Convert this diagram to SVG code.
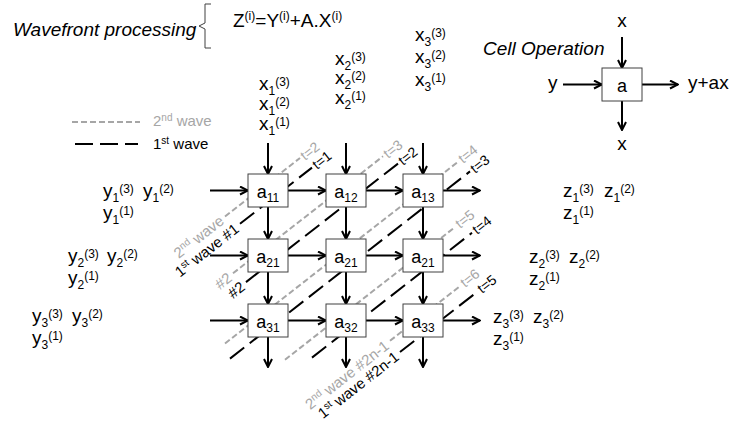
<svg xmlns="http://www.w3.org/2000/svg" width="732" height="421" viewBox="0 0 732 421">
<defs>
<marker id="ah" markerUnits="userSpaceOnUse" viewBox="0 0 10 10" refX="9" refY="5" markerWidth="10" markerHeight="10" orient="auto">
<path d="M1,1 L9,5 L1,9" fill="none" stroke="#000" stroke-width="2"/>
</marker>
<style>
text{font-family:"Liberation Sans",Arial,sans-serif;fill:#000}
.m{font-size:19px}
.s{font-size:12px}
.w{font-size:14px}
.wl{font-size:15px}
.g{fill:#a6a6a6}
.box{fill:#fff;stroke:#404040;stroke-width:1}
.arr{stroke:#000;stroke-width:2;fill:none;marker-end:url(#ah)}
.bd{stroke:#000;stroke-width:2;stroke-dasharray:18 7;fill:none}
.gd{stroke:#a6a6a6;stroke-width:2;stroke-dasharray:6 3;fill:none}
</style>
</defs>
<rect width="732" height="421" fill="#fff"/>

<g id="title">
<text class="m" x="13" y="36" font-style="italic">Wavefront processing</text>
<path d="M211,4 L205,4 L205,23 L199,26 L205,29 L205,48 L211,48" fill="none" stroke="#404040" stroke-width="1"/>
<text class="m" x="233" y="27">Z<tspan class="s" dy="-7">(i)</tspan><tspan dy="7">=Y</tspan><tspan class="s" dy="-7">(i)</tspan><tspan dy="7">+A.X</tspan><tspan class="s" dy="-7">(i)</tspan></text>
</g>

<g id="legend">
<line x1="72" y1="122" x2="140" y2="122" class="gd"/>
<text class="wl g" x="153" y="126">2<tspan font-size="10" dy="-5">nd</tspan><tspan dy="5"> wave</tspan></text>
<line x1="75" y1="144" x2="138" y2="144" class="bd" stroke-dasharray="18 5"/>
<text class="wl" x="153" y="149">1<tspan font-size="10" dy="-5">st</tspan><tspan dy="5"> wave</tspan></text>
</g>

<g id="cellop">
<text class="m" x="483" y="55" font-style="italic">Cell Operation</text>
<line x1="622" y1="37" x2="622" y2="68" class="arr"/>
<line x1="563" y1="84.5" x2="602" y2="84.5" class="arr"/>
<line x1="642" y1="84.5" x2="678" y2="84.5" class="arr"/>
<line x1="622" y1="101" x2="622" y2="130" class="arr"/>
<rect class="box" x="602" y="68" width="40" height="33"/>
<text x="622" y="92" text-anchor="middle" font-size="18">a</text>
<text class="m" x="622" y="27" text-anchor="middle">x</text>
<text class="m" x="622" y="150" text-anchor="middle">x</text>
<text class="m" x="548" y="89">y</text>
<text class="m" x="688" y="89">y+ax</text>
</g>

<g id="xin">
<text class="m" x="259" y="90">x<tspan class="s" dy="5">1</tspan><tspan class="s" dy="-9.5">(3)</tspan></text>
<text class="m" x="259" y="110">x<tspan class="s" dy="5">1</tspan><tspan class="s" dy="-9.5">(2)</tspan></text>
<text class="m" x="259" y="130">x<tspan class="s" dy="5">1</tspan><tspan class="s" dy="-9.5">(1)</tspan></text>
<text class="m" x="335" y="65">x<tspan class="s" dy="5">2</tspan><tspan class="s" dy="-9.5">(3)</tspan></text>
<text class="m" x="335" y="84">x<tspan class="s" dy="5">2</tspan><tspan class="s" dy="-9.5">(2)</tspan></text>
<text class="m" x="335" y="104">x<tspan class="s" dy="5">2</tspan><tspan class="s" dy="-9.5">(1)</tspan></text>
<text class="m" x="415" y="41">x<tspan class="s" dy="5">3</tspan><tspan class="s" dy="-9.5">(3)</tspan></text>
<text class="m" x="415" y="63">x<tspan class="s" dy="5">3</tspan><tspan class="s" dy="-9.5">(2)</tspan></text>
<text class="m" x="415" y="86">x<tspan class="s" dy="5">3</tspan><tspan class="s" dy="-9.5">(1)</tspan></text>
</g>

<g id="yin">
<text class="m" x="103" y="197">y<tspan class="s" dy="5">1</tspan><tspan class="s" dy="-9.5">(3)</tspan></text>
<text class="m" x="143" y="197">y<tspan class="s" dy="5">1</tspan><tspan class="s" dy="-9.5">(2)</tspan></text>
<text class="m" x="103" y="219">y<tspan class="s" dy="5">1</tspan><tspan class="s" dy="-9.5">(1)</tspan></text>
<text class="m" x="68" y="262">y<tspan class="s" dy="5">2</tspan><tspan class="s" dy="-9.5">(3)</tspan></text>
<text class="m" x="107" y="262">y<tspan class="s" dy="5">2</tspan><tspan class="s" dy="-9.5">(2)</tspan></text>
<text class="m" x="68" y="284">y<tspan class="s" dy="5">2</tspan><tspan class="s" dy="-9.5">(1)</tspan></text>
<text class="m" x="32" y="322">y<tspan class="s" dy="5">3</tspan><tspan class="s" dy="-9.5">(3)</tspan></text>
<text class="m" x="72" y="322">y<tspan class="s" dy="5">3</tspan><tspan class="s" dy="-9.5">(2)</tspan></text>
<text class="m" x="32" y="344">y<tspan class="s" dy="5">3</tspan><tspan class="s" dy="-9.5">(1)</tspan></text>
</g>

<g id="zout">
<text class="m" x="563" y="197">z<tspan class="s" dy="5">1</tspan><tspan class="s" dy="-9.5">(3)</tspan></text>
<text class="m" x="604" y="197">z<tspan class="s" dy="5">1</tspan><tspan class="s" dy="-9.5">(2)</tspan></text>
<text class="m" x="563" y="219">z<tspan class="s" dy="5">1</tspan><tspan class="s" dy="-9.5">(1)</tspan></text>
<text class="m" x="529" y="263">z<tspan class="s" dy="5">2</tspan><tspan class="s" dy="-9.5">(3)</tspan></text>
<text class="m" x="569" y="263">z<tspan class="s" dy="5">2</tspan><tspan class="s" dy="-9.5">(2)</tspan></text>
<text class="m" x="529" y="285">z<tspan class="s" dy="5">2</tspan><tspan class="s" dy="-9.5">(1)</tspan></text>
<text class="m" x="493" y="323">z<tspan class="s" dy="5">3</tspan><tspan class="s" dy="-9.5">(3)</tspan></text>
<text class="m" x="533" y="323">z<tspan class="s" dy="5">3</tspan><tspan class="s" dy="-9.5">(2)</tspan></text>
<text class="m" x="493" y="345">z<tspan class="s" dy="5">3</tspan><tspan class="s" dy="-9.5">(1)</tspan></text>
</g>

<g id="waves">
<path class="gd" d="M225,216.5 L300,158"/>
<path class="gd" d="M233,273.3 L383,156.3"/>
<path class="gd" d="M225,343.5 L458,161.8"/>
<path class="gd" d="M285,359.7 L455,227.1"/>
<path class="gd" d="M390,340.8 L460,286.2"/>
<path class="bd" d="M240,223.8 L312,167.6"/>
<path class="bd" d="M246,282.1 L398,163.6"/>
<path class="bd" d="M230,358.6 L470,171.4"/>
<path class="bd" d="M312,357.6 L472,232.8"/>
<path class="bd" d="M400,352 L477,292"/>
<text class="w g" transform="translate(302,157) rotate(-38)" dy="5">t=2</text>
<text class="w" transform="translate(314,166) rotate(-38)" dy="5">t=1</text>
<text class="w g" transform="translate(385,155) rotate(-38)" dy="5">t=3</text>
<text class="w" transform="translate(400,162) rotate(-38)" dy="5">t=2</text>
<text class="w g" transform="translate(460,160) rotate(-38)" dy="5">t=4</text>
<text class="w" transform="translate(472,170) rotate(-38)" dy="5">t=3</text>
<text class="w g" transform="translate(457,225) rotate(-38)" dy="5">t=5</text>
<text class="w" transform="translate(474,231) rotate(-38)" dy="5">t=4</text>
<text class="w g" transform="translate(462,284) rotate(-38)" dy="5">t=6</text>
<text class="w" transform="translate(479,290) rotate(-38)" dy="5">t=5</text>
<text class="wl g" transform="translate(222,219) rotate(-38)" text-anchor="end"><tspan dy="5">2</tspan><tspan font-size="10" dy="-5">nd</tspan><tspan dy="5"> wave</tspan></text>
<text class="wl" transform="translate(237,227) rotate(-38)" text-anchor="end"><tspan dy="5">1</tspan><tspan font-size="10" dy="-5">st</tspan><tspan dy="5"> wave #1</tspan></text>
<text class="wl g" transform="translate(230,276) rotate(-38)" text-anchor="end" dy="5">#2</text>
<text class="wl" transform="translate(243,285) rotate(-38)" text-anchor="end" dy="5">#2</text>
<text class="wl g" transform="translate(387,344) rotate(-38)" text-anchor="end"><tspan dy="5">2</tspan><tspan font-size="10" dy="-5">nd</tspan><tspan dy="5"> wave #2n-1</tspan></text>
<text class="wl" transform="translate(397,355) rotate(-38)" text-anchor="end"><tspan dy="5">1</tspan><tspan font-size="10" dy="-5">st</tspan><tspan dy="5"> wave #2n-1</tspan></text>
</g>

<g id="connectors">
<line x1="268" y1="143" x2="268" y2="174" class="arr"/>
<line x1="346" y1="143" x2="346" y2="174" class="arr"/>
<line x1="423" y1="143" x2="423" y2="174" class="arr"/>
<line x1="268" y1="207" x2="268" y2="239" class="arr"/>
<line x1="346" y1="207" x2="346" y2="239" class="arr"/>
<line x1="423" y1="207" x2="423" y2="239" class="arr"/>
<line x1="268" y1="272" x2="268" y2="304" class="arr"/>
<line x1="346" y1="272" x2="346" y2="304" class="arr"/>
<line x1="423" y1="272" x2="423" y2="304" class="arr"/>
<line x1="268" y1="337" x2="268" y2="367" class="arr"/>
<line x1="346" y1="337" x2="346" y2="367" class="arr"/>
<line x1="423" y1="337" x2="423" y2="367" class="arr"/>
<line x1="210" y1="190.5" x2="248" y2="190.5" class="arr"/>
<line x1="288" y1="190.5" x2="326" y2="190.5" class="arr"/>
<line x1="366" y1="190.5" x2="403" y2="190.5" class="arr"/>
<line x1="443" y1="190.5" x2="480" y2="190.5" class="arr"/>
<line x1="210" y1="255.5" x2="248" y2="255.5" class="arr"/>
<line x1="288" y1="255.5" x2="326" y2="255.5" class="arr"/>
<line x1="366" y1="255.5" x2="403" y2="255.5" class="arr"/>
<line x1="443" y1="255.5" x2="480" y2="255.5" class="arr"/>
<line x1="210" y1="320.5" x2="248" y2="320.5" class="arr"/>
<line x1="288" y1="320.5" x2="326" y2="320.5" class="arr"/>
<line x1="366" y1="320.5" x2="403" y2="320.5" class="arr"/>
<line x1="443" y1="320.5" x2="480" y2="320.5" class="arr"/>
</g>

<g id="a11"><rect class="box" x="248" y="174" width="40" height="33"/><text x="268" y="198" text-anchor="middle" font-size="18">a<tspan font-size="12" dy="4">11</tspan></text></g>
<g id="a12"><rect class="box" x="326" y="174" width="40" height="33"/><text x="346" y="198" text-anchor="middle" font-size="18">a<tspan font-size="12" dy="4">12</tspan></text></g>
<g id="a13"><rect class="box" x="403" y="174" width="40" height="33"/><text x="423" y="198" text-anchor="middle" font-size="18">a<tspan font-size="12" dy="4">13</tspan></text></g>
<g id="a21"><rect class="box" x="248" y="239" width="40" height="33"/><text x="268" y="263" text-anchor="middle" font-size="18">a<tspan font-size="12" dy="4">21</tspan></text></g>
<g id="a22"><rect class="box" x="326" y="239" width="40" height="33"/><text x="346" y="263" text-anchor="middle" font-size="18">a<tspan font-size="12" dy="4">21</tspan></text></g>
<g id="a23"><rect class="box" x="403" y="239" width="40" height="33"/><text x="423" y="263" text-anchor="middle" font-size="18">a<tspan font-size="12" dy="4">21</tspan></text></g>
<g id="a31"><rect class="box" x="248" y="304" width="40" height="33"/><text x="268" y="328" text-anchor="middle" font-size="18">a<tspan font-size="12" dy="4">31</tspan></text></g>
<g id="a32"><rect class="box" x="326" y="304" width="40" height="33"/><text x="346" y="328" text-anchor="middle" font-size="18">a<tspan font-size="12" dy="4">32</tspan></text></g>
<g id="a33"><rect class="box" x="403" y="304" width="40" height="33"/><text x="423" y="328" text-anchor="middle" font-size="18">a<tspan font-size="12" dy="4">33</tspan></text></g>
</svg>
